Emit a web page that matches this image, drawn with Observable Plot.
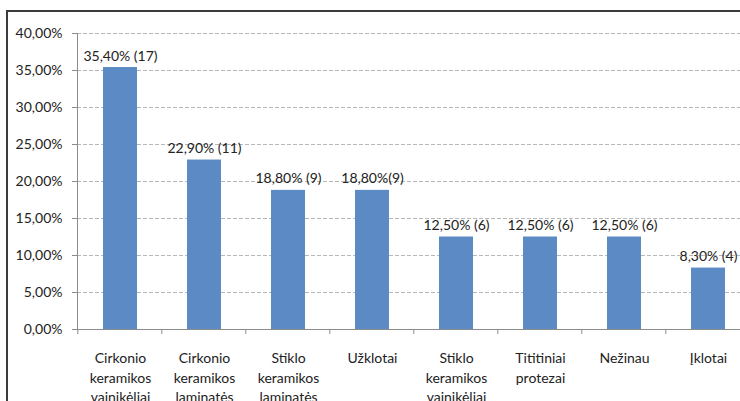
<!DOCTYPE html>
<html>
<head>
<meta charset="utf-8">
<script src="https://cdn.jsdelivr.net/npm/d3@7"></script>
<script src="https://cdn.jsdelivr.net/npm/@observablehq/plot@0.6"></script>
<style>
  html, body { margin: 0; padding: 0; background: #fff; overflow: hidden; width: 740px; height: 401px; }
  #wrap { position: relative; width: 740px; height: 401px; overflow: hidden; }
  #border { position: absolute; left: 6px; top: 10px; width: 800px; height: 500px; border-top: 2px solid #3c3c3c; border-left: 2px solid #3c3c3c; pointer-events: none; }
  #chart { position: absolute; left: 0; top: 0; width: 755px; }
  #chart svg { max-width: none !important; }
</style>
</head>
<body>
<div id="wrap"><div id="chart"></div><div id="border"></div></div>
<script>
const categories = [
  "Cirkonio\nkeramikos\nvainikėliai",
  "Cirkonio\nkeramikos\nlaminatės",
  "Stiklo\nkeramikos\nlaminatės",
  "Užklotai",
  "Stiklo\nkeramikos\nvainikėliai",
  "Tititiniai\nprotezai",
  "Nežinau",
  "Įklotai"
];
const values = [0.354, 0.229, 0.188, 0.188, 0.125, 0.125, 0.125, 0.083];
const valueLabels = ["35,40% (17)", "22,90% (11)", "18,80% (9)", "18,80%(9)", "12,50% (6)", "12,50% (6)", "12,50% (6)", "8,30% (4)"];
const yTicks = [0, 0.05, 0.10, 0.15, 0.20, 0.25, 0.30, 0.35, 0.40];

const data = categories.map((c, i) => ({cat: c, value: values[i], label: valueLabels[i]}));
const fmt = v => (v * 100).toFixed(2).replace(".", ",") + "%";
const pInner = 0.6;

const boundaryTicks = (index, scales, values, dims) => {
  const x = scales.x;
  const step = x(categories[1]) - x(categories[0]);
  const g = d3.create("svg:g").attr("stroke", "#8c8c8c").attr("stroke-width", 1);
  const y0 = dims.height - dims.marginBottom;
  for (let i = 0; i <= categories.length; i++) {
    const px = (i < categories.length ? x(categories[i]) : x(categories[categories.length - 1]) + step) - pInner * step / 2;
    g.append("line").attr("x1", px).attr("x2", px).attr("y1", y0).attr("y2", y0 + 5);
  }
  return g.node();
};

const chart = Plot.plot({
  width: 755,
  height: 401,
  marginLeft: 77,
  marginRight: 4,
  marginTop: 33,
  marginBottom: 72,
  style: {fontFamily: "Lato, 'Open Sans', sans-serif", fontSize: "14px", color: "#222", background: "transparent", maxWidth: "none"},
  x: {domain: categories, paddingInner: pInner, paddingOuter: pInner / 2, label: null},
  y: {domain: [0, 0.40], label: null},
  marks: [
    Plot.gridY(yTicks.filter(d => d > 0), {stroke: "#b8b8b8", strokeOpacity: 1, strokeDasharray: "4,2"}),
    Plot.barY(data, {x: "cat", y: "value", fill: "#5b8ac5"}),
    Plot.ruleY([0], {stroke: "#8c8c8c"}),
    Plot.frame({anchor: "left", stroke: "#8c8c8c"}),
    Plot.axisY({ticks: yTicks, tickFormat: fmt, tickSize: 5, tickPadding: 10, stroke: "#8c8c8c", fill: "#222", label: null}),
    Plot.axisX({tickSize: 0, tickPadding: 20, lineHeight: 1.38, fill: "#222", label: null}),
    boundaryTicks,
    Plot.text(data, {x: "cat", y: "value", text: "label", lineAnchor: "bottom", dy: -7, fill: "#222"})
  ]
});
document.getElementById("chart").appendChild(chart);
</script>
</body>
</html>
